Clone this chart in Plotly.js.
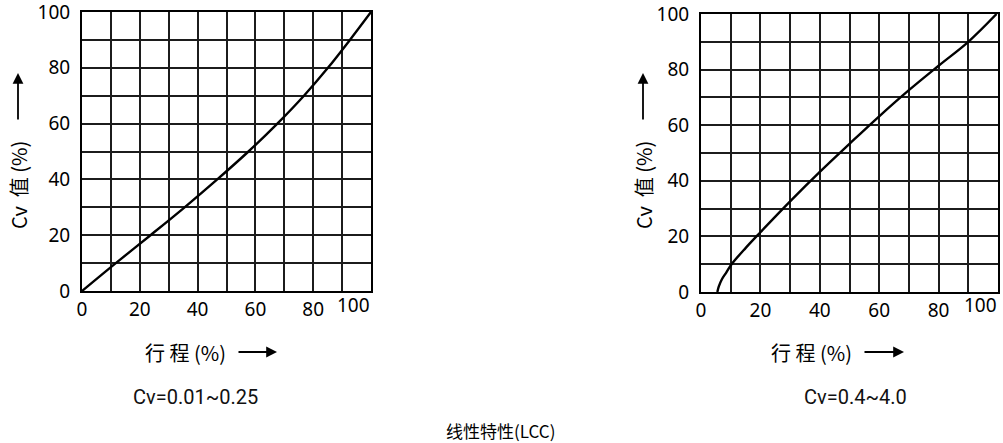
<!DOCTYPE html>
<html>
<head>
<meta charset="utf-8">
<script src="https://cdn.plot.ly/plotly-3.0.1.min.js"></script>
<style>html,body{margin:0;padding:0;background:#fff;}#chart{width:1003px;height:443px;}</style>
</head>
<body>
<div id="chart"></div>
<script>
// Left chart: Cv = 0.01~0.25  (stroke %, Cv %)
const strokeLeft = [0, 11.7, 23.7, 35.5, 46.8, 57.6, 67.6, 76.8, 85.1, 92.7, 100];
const cvLeft     = [0, 10, 20, 30, 40, 50, 60, 70, 80, 90, 100];
// Right chart: Cv = 0.4~4.0
const strokeRight = [5.5, 6, 7, 8.5, 10.3, 15, 20, 30, 40, 50, 60, 70, 80, 90, 99.5];
const cvRight     = [0, 2, 4.5, 7, 10, 15.8, 21.5, 32.6, 43.2, 53.3, 63.2, 72.6, 81.4, 90, 100];

const tickVals = [0, 20, 40, 60, 80, 100];
const tickText = ['0', '20', '40', '60', '80', '100'];
const yTitle = 'Cv\u00a0\u00a0值\u00a0(%)';
const xTitle = '行\u00a0程\u00a0(%)';
const subTitleLeft = 'Cv=0.01~0.25';
const subTitleRight = 'Cv=0.4~4.0';
const mainTitle = '线性特性(LCC)';

const W = 1003, H = 443;
const px = v => v / W;
const py = v => 1 - v / H;

const lineStyle = {color: '#000', width: 2.4, shape: 'spline', smoothing: 1};
const traces = [
  {x: strokeLeft, y: cvLeft, xaxis: 'x', yaxis: 'y', mode: 'lines', line: lineStyle, hoverinfo: 'skip'},
  {x: strokeRight, y: cvRight, xaxis: 'x2', yaxis: 'y2', mode: 'lines', line: lineStyle, hoverinfo: 'skip'}
];

const tickFont = {family: 'Noto Sans, Open Sans, sans-serif', size: 19, color: '#000'};
const lastIdx = tickVals.length - 1;
const xTickText = tickText.map((t, i) => i === lastIdx ? '' : t);
function axis(domain, extra) {
  return Object.assign({
    domain: domain, range: [0, 100], tickmode: 'array', tickvals: tickVals, ticktext: tickText,
    showgrid: true, gridcolor: '#1c1c1c', gridwidth: 2,
    minor: {dtick: 10, tick0: 0, showgrid: true, gridcolor: '#1c1c1c', gridwidth: 2, ticks: ''},
    showline: true, linecolor: '#000', linewidth: 2, mirror: true,
    ticks: '', zeroline: false, tickfont: tickFont, fixedrange: true,
    ticklabeloverflow: 'allow'
  }, extra || {});
}

const cjk = 'Noto Sans CJK SC, Noto Sans, sans-serif';
const annFont = {family: cjk, size: 20, color: '#000'};
const annotations = [];
function arrow(x1, y1, x0, y0) {
  annotations.push({xref: 'paper', yref: 'paper', x: px(x1), y: py(y1), ax: px(x0), ay: py(y0),
    axref: 'paper', ayref: 'paper', text: '', showarrow: true, arrowhead: 2, arrowsize: 1.2,
    arrowwidth: 1.8, arrowcolor: '#000'});
}
function label(text, x, y, font, angle) {
  annotations.push({xref: 'paper', yref: 'paper', x: px(x), y: py(y), text: text, showarrow: false,
    font: font, textangle: angle || 0, xanchor: 'center', yanchor: 'middle'});
}
// last x tick label, right-aligned with the plot edge
['x', 'x2'].forEach(ax => {
  annotations.push({xref: ax, yref: 'paper', x: tickVals[lastIdx], y: py(305), text: tickText[lastIdx],
    showarrow: false, xanchor: 'right', yanchor: 'middle', font: tickFont, xshift: 1});
});
// Y titles
label(yTitle, 18, 185, annFont, -90);
arrow(18, 73, 18, 121);
label(yTitle, 643, 185, annFont, -90);
arrow(643, 73, 643, 121);
// X titles
label(xTitle, 185, 352, annFont);
arrow(277, 352, 237, 352);
label(xTitle, 811, 352, annFont);
arrow(904, 352, 863, 352);
// Subtitles
const subFont = {family: 'Roboto, Noto Sans, sans-serif', size: 20, color: '#111'};
label(subTitleLeft, 195, 397, subFont);
label(subTitleRight, 855, 397, subFont);
label(mainTitle, 500, 430, {family: cjk, size: 17, color: '#000'});

const layout = {
  width: W, height: H, margin: {l: 0, r: 0, t: 0, b: 0},
  paper_bgcolor: '#fff', plot_bgcolor: '#fff', showlegend: false,
  xaxis: axis([px(82), px(371)], {anchor: 'y', ticktext: xTickText}),
  yaxis: axis([1 - 291 / H, 1 - 12 / H], {anchor: 'x', ticklabelstandoff: 6}),
  xaxis2: axis([px(701), px(998)], {anchor: 'y2', ticktext: xTickText}),
  yaxis2: axis([1 - 292 / H, 1 - 14 / H], {anchor: 'x2', ticklabelstandoff: 6}),
  annotations: annotations
};
Plotly.newPlot('chart', traces, layout, {displayModeBar: false, staticPlot: true});
</script>
</body>
</html>
